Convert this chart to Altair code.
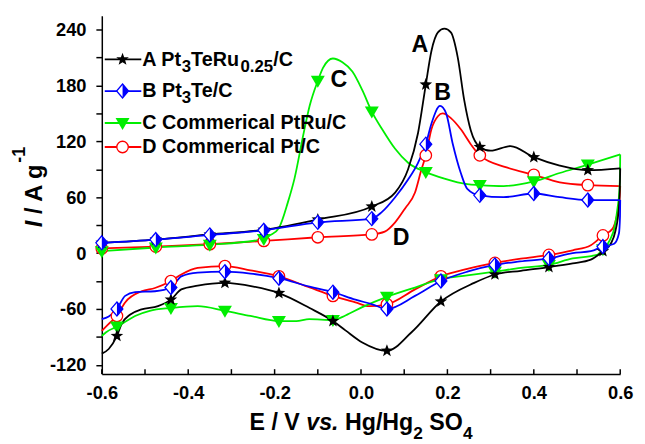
import math
import altair as alt
import pandas as pd

# ---------------- data ----------------
UP_MARK_X = [-0.6, -0.475, -0.35, -0.225, -0.1, 0.025, 0.15, 0.275, 0.4, 0.525]
LOW_MARK_X = [0.56, 0.435, 0.31, 0.185, 0.06, -0.065, -0.19, -0.315, -0.44, -0.565]

A_up_x = [-0.6, -0.475, -0.35, -0.225, -0.1, 0.025, 0.079, 0.109, 0.132, 0.15, 0.163, 0.178, 0.193, 0.208, 0.224, 0.239, 0.254, 0.275, 0.3, 0.346, 0.4, 0.46, 0.525, 0.6]
A_up_y = [11, 14.5, 20, 25, 36, 50, 65, 90, 129, 181, 217, 237, 241, 237, 210, 164, 132, 114, 110, 115, 103, 94, 89, 91]
A_low_x = [0.6, 0.5995, 0.597, 0.589, 0.578, 0.56, 0.532, 0.49, 0.435, 0.37, 0.31, 0.262, 0.185, 0.117, 0.06, 0.003, -0.036, -0.065, -0.119, -0.19, -0.249, -0.315, -0.378, -0.416, -0.44, -0.47, -0.508, -0.534, -0.554, -0.565, -0.584, -0.6]
A_low_y = [91, 78, 49, 24, 10, 2, -7, -11, -15, -19, -23, -32, -52, -85, -105, -96, -83, -73, -59, -43, -36, -32, -35, -39, -50, -57, -60.5, -66, -76, -89, -103, -108]

B_up_x = [-0.6, -0.475, -0.35, -0.225, -0.1, 0.025, 0.048, 0.079, 0.109, 0.132, 0.15, 0.163, 0.183, 0.197, 0.212, 0.231, 0.246, 0.275, 0.33, 0.4, 0.46, 0.525, 0.6]
B_up_y = [11, 14.5, 19.5, 24.5, 33, 37, 44, 60, 79, 97, 117, 139, 158, 150, 118, 86, 69, 62, 60, 64, 60, 57, 57]
B_low_x = [0.6, 0.5995, 0.597, 0.586, 0.56, 0.532, 0.49, 0.435, 0.368, 0.31, 0.246, 0.185, 0.125, 0.06, 0.026, -0.013, -0.065, -0.119, -0.19, -0.256, -0.315, -0.378, -0.416, -0.44, -0.477, -0.523, -0.546, -0.565, -0.584, -0.6]
B_low_y = [57, 39, 21, 10, 7, 2, 0, -5.7, -9, -12.7, -20, -30, -46, -60, -55, -50, -42, -36, -27, -22, -20, -21, -25, -37, -41, -42, -46, -60, -68, -71]

C_up_x = [-0.6, -0.475, -0.35, -0.225, -0.211, -0.19, -0.169, -0.154, -0.134, -0.119, -0.1, -0.088, -0.065, -0.043, -0.02, 0.003, 0.025, 0.049, 0.079, 0.109, 0.15, 0.193, 0.246, 0.275, 0.33, 0.4, 0.46, 0.525, 0.6]
C_up_y = [2, 6, 9, 15, 19, 27, 55, 80, 126, 158, 185, 199, 209, 205, 195, 175, 152, 133, 112, 97, 87, 80, 74, 73, 72, 77, 86, 95, 106]
C_low_x = [0.6, 0.5995, 0.598, 0.594, 0.587, 0.576, 0.56, 0.546, 0.49, 0.435, 0.37, 0.31, 0.246, 0.185, 0.125, 0.06, 0.003, -0.036, -0.065, -0.12, -0.15, -0.19, -0.256, -0.315, -0.378, -0.44, -0.489, -0.523, -0.55, -0.565, -0.59, -0.6]
C_low_y = [106, 85, 67, 49, 28, 14, 4, -2, -5.7, -12.7, -16, -20, -24, -28, -37, -47, -58, -67, -72, -71, -73, -73, -67.5, -62, -57, -59, -62, -67.5, -75, -79, -85, -89]

D_up_x = [-0.6, -0.475, -0.35, -0.225, -0.1, 0.025, 0.055, 0.079, 0.102, 0.125, 0.14, 0.15, 0.163, 0.178, 0.189, 0.208, 0.231, 0.254, 0.275, 0.337, 0.4, 0.46, 0.525, 0.6]
D_up_y = [5, 7, 9.5, 13, 17, 20, 23, 33, 48, 65, 90, 105, 133, 147, 150, 145, 133, 117, 105, 92, 84, 76, 73, 72]
D_low_x = [0.6, 0.598, 0.5915, 0.582, 0.56, 0.532, 0.49, 0.435, 0.37, 0.31, 0.246, 0.185, 0.125, 0.06, 0.018, -0.013, -0.065, -0.119, -0.19, -0.256, -0.315, -0.378, -0.416, -0.44, -0.477, -0.508, -0.546, -0.565, -0.584, -0.6]
D_low_y = [72, 55, 38.6, 26, 19, 8.5, 3, -2, -6, -10.6, -17, -25, -39, -55, -57, -53, -46, -37, -25, -18.5, -14, -16, -23, -30, -37.5, -41, -53, -67.5, -76, -83.5]

X_TICKS = [-0.6, -0.5, -0.4, -0.3, -0.2, -0.1, 0.0, 0.1, 0.2, 0.3, 0.4, 0.5, 0.6]
X_LABELS = [-0.6, -0.4, -0.2, 0.0, 0.2, 0.4, 0.6]
Y_TICKS = [-120, -90, -60, -30, 0, 30, 60, 90, 120, 150, 180, 210, 240]

ANN_TEXT = ["A", "B", "C", "D"]
ANN_X = [0.136, 0.189, -0.051, 0.093]
ANN_Y = [223, 172, 186, 16]

# ---------------- styling ----------------
FONT = "Liberation Sans"
COL = {"A": "#000000", "B": "#0000ff", "C": "#00ee00", "D": "#ff0000"}
W, H = 525, 363


def star_path(n=5, r_in=0.42):
    pts = []
    for k in range(2 * n):
        a = math.radians(-90 + 180.0 * k / n)
        r = 1.0 if k % 2 == 0 else r_in
        pts.append(f"{r*math.cos(a):.3f},{r*math.sin(a):.3f}")
    return "M" + "L".join(pts) + "Z"


STAR = star_path()
DIAM = "M0,-1L0.85,0L0,1L-0.85,0Z"
HALF = "M0,-1L0.85,0L0,1Z"
TRI = "M-1,-0.72L1,-0.72L0,1Z"

SERIES = {
    "A": (A_up_x, A_up_y, A_low_x, A_low_y),
    "B": (B_up_x, B_up_y, B_low_x, B_low_y),
    "C": (C_up_x, C_up_y, C_low_x, C_low_y),
    "D": (D_up_x, D_up_y, D_low_x, D_low_y),
}


def curve_df(s):
    ux, uy, lx, ly = SERIES[s]
    rows = [dict(branch="up", x=a, y=b) for a, b in zip(ux, uy)]
    rows += [dict(branch="low", x=a, y=b) for a, b in zip(lx, ly)]
    return pd.DataFrame(rows)


def marker_df(s):
    ux, uy, lx, ly = SERIES[s]
    pts = [(t, uy[ux.index(t)]) for t in UP_MARK_X] + [(t, ly[lx.index(t)]) for t in LOW_MARK_X]
    return pd.DataFrame(pts, columns=["x", "y"])


def X():
    return alt.X("x:Q", scale=alt.Scale(domain=[-0.6, 0.6], nice=False, zero=False),
                 axis=alt.Axis(values=X_LABELS, format=".1f",
                               labelExpr="replace(datum.label, '\u2212', '-')",
                               ticks=False, tickSize=0, labelPadding=10, grid=False,
                               title=None, labelFlush=False, labelOverlap=False,
                               domainColor="black", domainWidth=1.5,
                               labelFont=FONT, labelFontWeight="bold", labelFontSize=18.5,
                               labelColor="black"))


def Y():
    return alt.Y("y:Q", scale=alt.Scale(domain=[-130, 255], nice=False, zero=False),
                 axis=alt.Axis(values=Y_TICKS, format="d",
                               labelExpr="datum.value % 60 == 0 ? replace(datum.label, '\u2212', '-') : ''",
                               tickSize=6, tickWidth=1.5, tickColor="black", labelPadding=10,
                               grid=False, title=None, labelOverlap=False,
                               domainColor="black", domainWidth=1.5,
                               labelFont=FONT, labelFontWeight="bold", labelFontSize=18.5,
                               labelColor="black"))


layers = []
dummy = pd.DataFrame({"a": [0]})

# inward x ticks
layers.append(alt.Chart(pd.DataFrame({"x": X_TICKS})).mark_rule(color="black", strokeWidth=1.5)
              .encode(x=X(), y=alt.value(H), y2=alt.value(H - 5)))

# curves
for s in ["D", "C", "A", "B"]:
    layers.append(alt.Chart(curve_df(s)).mark_line(interpolate="monotone", strokeWidth=1.8, color=COL[s])
                  .encode(x=X(), y=Y(), detail="branch:N"))


def marker_marks(s):
    if s == "A":
        return [dict(shape=STAR, size=180, filled=True, color=COL[s], opacity=1)]
    if s == "B":
        return [dict(shape=DIAM, size=200, filled=True, fill="white", stroke=COL[s], strokeWidth=1.3, opacity=1),
                dict(shape=HALF, size=200, filled=True, color=COL[s], opacity=1)]
    if s == "C":
        return [dict(shape=TRI, size=200, filled=True, color=COL[s], opacity=1)]
    return [dict(shape="circle", size=135, filled=True, fill="white", stroke=COL[s], strokeWidth=1.3, opacity=1)]


for s in ["D", "C", "A", "B"]:
    for m in marker_marks(s):
        layers.append(alt.Chart(marker_df(s)).mark_point(**m).encode(x=X(), y=Y()))

# curve annotations
ann = pd.DataFrame({"x": ANN_X, "y": ANN_Y, "t": ANN_TEXT})
layers.append(alt.Chart(ann).mark_text(font=FONT, fontWeight="bold", fontSize=23.5, align="center",
                                       baseline="middle", color="black")
              .encode(x=X(), y=Y(), text="t:N"))

# ---------------- manual legend & titles ----------------
AW = {' ': 278, '/': 278, '.': 278, '-': 333, 'A': 722, 'B': 722, 'C': 722, 'D': 722, 'E': 667,
      'H': 722, 'I': 278, 'O': 778, 'P': 667, 'R': 722, 'S': 667, 'T': 611, 'V': 667, 'a': 556,
      'c': 556, 'e': 556, 'g': 611, 'i': 278, 'l': 278, 'm': 889, 'o': 611, 'r': 389, 's': 556,
      't': 333, 'u': 611, 'v': 556}


def tw(s, fs):
    return sum(AW.get(c, 556) for c in s) * fs / 1000.0


def run(segs, x0, y0, angle=0):
    """segs: list of (text, fontSize, shift, italic). Positions along reading direction."""
    out = []
    pos = 0.0
    for text, fs, shift, ital in segs:
        lead = len(text) - len(text.lstrip(" "))
        body = text.strip(" ")
        p = pos + tw(" " * lead, fs)
        if body:
            if angle == 0:
                px, py = x0 + p, y0 + shift
            else:
                px, py = x0 + shift, y0 - p
            props = dict(font=FONT, fontWeight="bold", fontSize=fs, align="left",
                         baseline="alphabetic", color="black")
            if ital:
                props["fontStyle"] = "italic"
            if angle:
                props["angle"] = angle
            out.append(alt.Chart(dummy).mark_text(**props)
                       .encode(x=alt.value(px), y=alt.value(py), text=alt.value(body)))
        pos += tw(text, fs)
    return out, pos


LEG_ROWS = [44.3, 76.3, 108.7, 133.0]
LEG_TEXT = [
    [("A Pt", 20, 0, False), ("3", 17, 6, False), ("TeRu", 20, 0, False), ("0.25", 17, 6, False), ("/C", 20, 0, False)],
    [("B Pt", 20, 0, False), ("3", 17, 6, False), ("Te/C", 20, 0, False)],
    [("C Commerical PtRu/C", 20, 0, False)],
    [("D Commerical Pt/C", 20, 0, False)],
]
for s, ly, segs in zip(["A", "B", "C", "D"], LEG_ROWS, LEG_TEXT):
    layers.append(alt.Chart(dummy).mark_rule(color=COL[s], strokeWidth=1.8)
                  .encode(x=alt.value(3), x2=alt.value(40), y=alt.value(ly)))
    for m in marker_marks(s):
        layers.append(alt.Chart(dummy).mark_point(**m).encode(x=alt.value(21), y=alt.value(ly)))
    parts, _ = run(segs, 41, ly + 6.5)
    layers += parts

# x title
xsegs = [("E / V ", 23.5, 0, False), ("vs.", 23.5, 0, True), (" Hg/Hg", 23.5, 0, False),
         ("2", 17.5, 9, False), (" SO", 23.5, 0, False), ("4", 17.5, 9, False)]
_, total = run(xsegs, 0, 0)
parts, _ = run(xsegs, W / 2 - total / 2, 420)
layers += parts

# y title (rotated)
ysegs = [("I", 24, 0, True), (" / A g", 24, 0, False), ("-1", 18, -17, False)]
_, ytot = run(ysegs, 0, 0, angle=270)
parts, _ = run(ysegs, -61, 173.5 + ytot / 2, angle=270)
layers += parts

chart = alt.layer(*layers).properties(
    width=W, height=H,
    autosize=alt.AutoSizeParams(type="none"),
    padding={"left": 95, "top": 5, "right": 17, "bottom": 68},
    background="white",
).configure_view(stroke=None)

chart.save("out.html", embed_options={"renderer": "svg", "actions": False})
